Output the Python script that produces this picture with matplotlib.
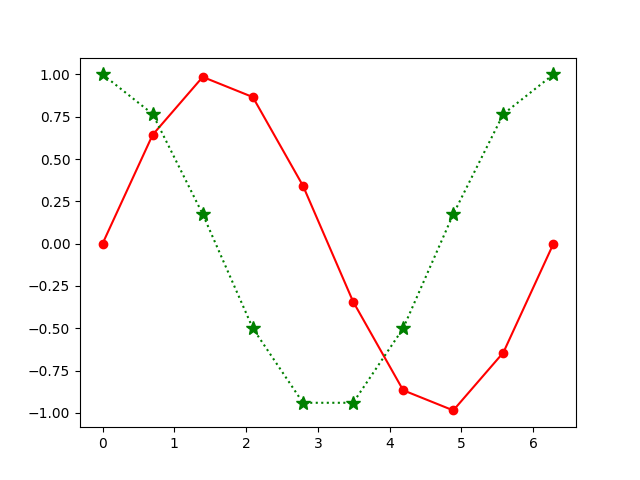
import matplotlib
matplotlib.use("Agg")
import matplotlib.pyplot as plt

# values
x = [0.0, 0.698, 1.396, 2.094, 2.793, 3.491, 4.189, 4.887, 5.585, 6.283]
red_y = [0.0, 0.643, 0.985, 0.866, 0.342, -0.342, -0.866, -0.985, -0.643, 0.0]
green_y = [1.0, 0.766, 0.174, -0.5, -0.940, -0.940, -0.5, 0.174, 0.766, 1.0]

fig = plt.figure(figsize=(6.4, 4.8), dpi=100)
axes = fig.add_subplot(1, 1, 1)

axes.plot(x, red_y, 'ro-')
axes.plot(x, green_y, 'g*:', markersize=10)

plt.savefig("out.png")
